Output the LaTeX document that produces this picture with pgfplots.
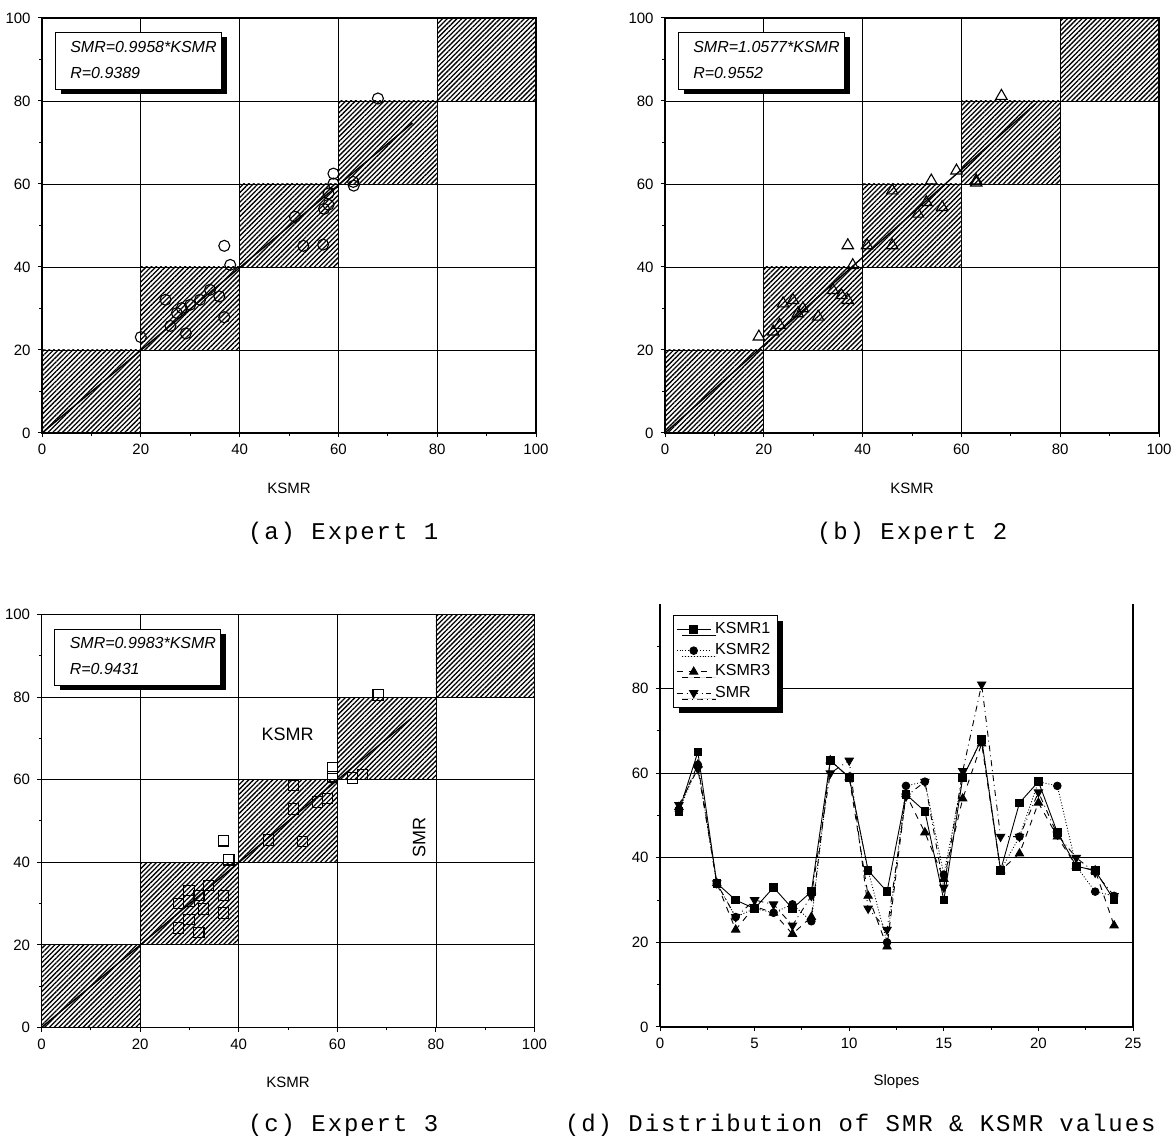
\documentclass[border=0pt]{standalone}
\usepackage{fontspec}
\setmainfont{Liberation Sans}
\newfontfamily\capfont[LetterSpace=8]{Liberation Mono}
\usepackage{pgfplots}
\usepackage{pgfplotstable}
\pgfplotsset{compat=1.18}
\usetikzlibrary{patterns.meta,shadows}

\pgfplotstableread{
x y
20 23.1
25 32.1
26 25.8
27.3 28.9
28.3 30.1
29.1 24
30 30.9
32 32.1
34 34.5
35.9 32.9
36.9 27.9
36.9 45.1
38.1 40.5
51.2 52.1
52.9 45.1
56.9 45.4
57.1 54
58 55
58 57.7
59 60.1
59 62.5
63 60.5
63.1 59.6
68 80.6
}\expone

\pgfplotstableread{
x y
19 23.2
21.9 24.4
23.2 26
23.9 31.2
25.9 32
26.9 28.8
27.9 30
31 28
34 34.4
35.7 33.2
37 32
38 40.4
37 45.2
40.9 45.2
46 45.2
46 58.4
51.2 52.8
52.9 55.6
56.1 54.4
53.9 60.8
59 63.2
63 60.8
63 60.3
68.1 81.2
}\exptwo

\pgfplotstableread{
x y
36.9 45.2
38 40.6
29.9 33.2
33.9 34.4
27.8 30
29.9 30.6
31.9 32
36.9 32
32.9 28.7
36.9 27.7
29.9 26.1
27.8 24.1
31.9 23
46 45.4
52.9 45
51.1 58.6
51.1 52.9
56 54.6
58 55.5
59 60.7
59 62.8
63.1 60.4
65.1 61.2
68.3 80.5
}\expthree

\pgfplotstableread{
s k1 k2 k3 smr
1 51 51 52 52.5
2 65 62 62 61
3 34 34 34 34
4 30 26 23 26
5 28 28 28.5 30
6 33 27 27 29
7 28 29 22 24
8 32 25 26 31
9 63 63 63 60
10 59 59 59 63
11 37 37 31 28
12 32 20 19 23
13 55 57 55 54.5
14 51 58 46 58
15 30 36 35 33
16 59 59 54 60.5
17 68 68 67 81
18 37 37 37 45
19 53 45 41 45
20 58 58 53 55.5
21 46 57 45 45.5
22 38 38 38 40
23 37 32 37 36.5
24 30 31 24 31
}\dist

\tikzset{boxtext/.style={anchor=west, font=\fontsize{8}{9}\selectfont\itshape}}
\pgfplotsset{
  base/.style={
    scale only axis, anchor=south west,
    tick align=outside, tick pos=left,
    major tick length=2.2pt, minor tick length=1.4pt,
    axis line style={line width=0.6pt},
    every tick/.style={black, line width=0.5pt},
    tick label style={font=\fontsize{7.5}{9}\selectfont},
    /pgf/number format/assume math mode=true,
    major grid style={black, line width=0.4pt},
    xlabel style={font=\fontsize{7.5}{9}\selectfont, at={(axis description cs:0.5,0)}, anchor=center, yshift=-27.5pt},
  },
  scat/.style={
    base, xmin=0,xmax=100,ymin=0,ymax=100,
    xtick={0,20,...,100}, ytick={0,20,...,100},
    minor x tick num=1, minor y tick num=1,
    grid=major, xlabel={KSMR},
  },
  hatch/.style={draw=black, line width=0.4pt, pattern={Lines[angle=45,distance=1.7pt,line width=0.65pt]}, forget plot},
}

\newcommand{\hatches}{%
  \addplot[hatch] coordinates {(0,0) (20,0) (20,20) (0,20)} -- cycle;
  \addplot[hatch] coordinates {(20,20) (40,20) (40,40) (20,40)} -- cycle;
  \addplot[hatch] coordinates {(40,40) (60,40) (60,60) (40,60)} -- cycle;
  \addplot[hatch] coordinates {(60,60) (80,60) (80,80) (60,80)} -- cycle;
  \addplot[hatch] coordinates {(80,80) (100,80) (100,100) (80,100)} -- cycle;
}
\newcommand{\eqbox}[2]{%
  \fill[black] (axis cs:3.8,81.6) rectangle (axis cs:37.4,95.3);
  \draw[fill=white, line width=0.4pt] (axis cs:2.7,82.8) rectangle (axis cs:36.3,96.5);
  \node[boxtext] at (axis cs:4.3,93.0) {#1};
  \node[boxtext] at (axis cs:4.3,86.7) {#2};
}

\begin{document}
\begin{tikzpicture}
\useasboundingbox (0,0) rectangle (588pt,572pt);

% (a)
\begin{axis}[scat, at={(21pt,355.5pt)}, width=247pt, height=207.5pt]
\hatches
\addplot[line width=0.7pt, forget plot] coordinates {(0,0) (75,74.69)};
\addplot[only marks, mark=o, mark size=2.75pt, line width=0.55pt] table {\expone};
\eqbox{SMR=0.9958*KSMR}{R=0.9389}
\end{axis}

% (b)
\begin{axis}[scat, at={(332.5pt,355.5pt)}, width=247pt, height=207.5pt]
\hatches
\addplot[line width=0.7pt, forget plot] coordinates {(0,0) (75,79.33)};
\addplot[only marks, mark=triangle, mark size=3.3pt, line width=0.55pt] table {\exptwo};
\eqbox{SMR=1.0577*KSMR}{R=0.9552}
\end{axis}

% (c)
\begin{axis}[scat, at={(20.75pt,58.25pt)}, width=246.5pt, height=206.5pt]
\hatches
\addplot[line width=0.7pt, forget plot] coordinates {(0,0) (75,74.87)};
\addplot[only marks, mark=square, mark size=2.6pt, line width=0.55pt] table {\expthree};
\eqbox{SMR=0.9983*KSMR}{R=0.9431}
\node[font=\fontsize{9}{10}\selectfont] at (axis cs:49.9,71) {KSMR};
\node[font=\fontsize{9}{10}\selectfont, rotate=90] at (axis cs:76.6,46) {SMR};
\end{axis}

% (d)
\begin{axis}[base, at={(330pt,58.5pt)}, width=236.5pt, height=211.5pt,
  xmin=0, xmax=25, ymin=0, ymax=100,
  xtick={0,5,...,25}, minor x tick num=1,
  ytick={0,20,40,60,80}, minor ytick={10,30,50,70,90},
  ymajorgrids,
  axis x line*=bottom, axis y line*=box,
  x axis line style={-}, y axis line style={-},
  xlabel={Slopes},
  legend cell align=left,
  legend style={at={(0.027,0.974)}, anchor=north west, draw=black, fill=white,
    font=\fontsize{8}{9}\selectfont, inner sep=1.5pt, row sep=-0.5pt,
    drop shadow={shadow xshift=2.8pt, shadow yshift=-3pt, fill=black, opacity=1}},
]
\addplot[black, line width=0.45pt, mark=square*, mark size=1.9pt, mark options={solid}] table[x=s, y=k1] {\dist};
\addlegendentry{KSMR1}
\addplot[black, line width=0.45pt, densely dotted, mark=*, mark size=1.9pt, mark options={solid}] table[x=s, y=k2] {\dist};
\addlegendentry{KSMR2}
\addplot[black, line width=0.45pt, dashed, mark=triangle*, mark size=2.4pt, mark options={solid}] table[x=s, y=k3] {\dist};
\addlegendentry{KSMR3}
\addplot[black, line width=0.45pt, dash dot, mark=triangle*, mark size=2.4pt, mark options={solid, rotate=180}] table[x=s, y=smr] {\dist};
\addlegendentry{SMR}
\end{axis}

% captions
\node[anchor=west, font=\capfont\fontsize{12}{14}\selectfont] at (120.5pt,305.5pt) {(a) Expert 1};
\node[anchor=west, font=\capfont\fontsize{12}{14}\selectfont] at (405pt,305.5pt) {(b) Expert 2};
\node[anchor=west, font=\capfont\fontsize{12}{14}\selectfont] at (120.5pt,9.5pt) {(c) Expert 3};
\node[anchor=west, font=\capfont\fontsize{12}{14}\selectfont] at (279pt,9.5pt) {(d) Distribution of SMR \& KSMR values};
\end{tikzpicture}
\end{document}
